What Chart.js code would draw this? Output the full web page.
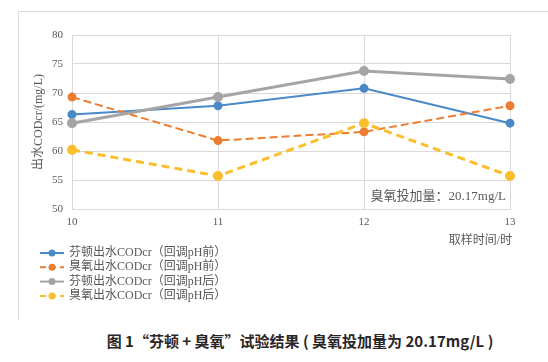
<!DOCTYPE html>
<html>
<head>
<meta charset="utf-8">
<script src="https://cdn.jsdelivr.net/npm/chart.js@4/dist/chart.umd.min.js"></script>
<style>
  body { margin: 0; background: #fff; }
  #wrap { position: relative; width: 548px; height: 362px; }
  #frame { position: absolute; left: 18px; top: 11px; width: 540px; height: 308px;
           border-left: 1px solid #dcdcdc; border-top: 1px solid #dcdcdc; }
  #chartBox { position: absolute; left: 0; top: 0; width: 548px; height: 320px; }
  #caption { position: absolute; left: 0; width: 600px; top: 330px; text-align: center;
             font-family: 'Noto Sans CJK SC', sans-serif; font-size: 15px; font-weight: bold; color: #2a2627; }
</style>
</head>
<body>
<div id="wrap">
  <div id="frame"></div>
  <div id="chartBox"><canvas id="chart" width="548" height="320"></canvas></div>
  <div id="caption">图 1“芬顿 + 臭氧”试验结果 ( 臭氧投加量为 20.17mg/L )</div>
</div>
<script>
const hours = ['10', '11', '12', '13'];
const fentonBefore = [66.3, 67.8, 70.8, 64.8];
const ozoneBefore = [69.3, 61.8, 63.3, 67.8];
const fentonAfter = [64.8, 69.3, 73.8, 72.4];
const ozoneAfter = [60.2, 55.7, 64.8, 55.7];
const yTicks = [50, 55, 60, 65, 70, 75, 80];

const serif = "'Liberation Serif', 'Noto Sans CJK SC', serif";
const textGray = '#595959';

// legend entries (drawn by hand so they stack in one column)
const legendItems = [
  { text: '芬顿出水CODcr（回调pH前）', color: '#4a89c8', dash: [] },
  { text: '臭氧出水CODcr（回调pH前）', color: '#ed7d31', dash: [6, 4] },
  { text: '芬顿出水CODcr（回调pH后）', color: '#a5a5a5', dash: [] },
  { text: '臭氧出水CODcr（回调pH后）', color: '#fbbf2e', dash: [6, 4] }
];

const extrasPlugin = {
  id: 'extras',
  afterDraw(chart) {
    const ctx = chart.ctx;
    const area = chart.chartArea;
    ctx.save();
    ctx.fillStyle = textGray;
    ctx.font = '13px ' + serif;
    ctx.textAlign = 'right';
    ctx.textBaseline = 'middle';
    ctx.fillText('臭氧投加量：20.17mg/L', area.right - 4, area.bottom - 12);
    ctx.font = '12px ' + serif;
    ctx.fillText('取样时间/时', area.right + 2, 241);

    legendItems.forEach((item, i) => {
      const y = 253 + i * 14.3;
      ctx.strokeStyle = item.color;
      ctx.lineWidth = 2;
      ctx.setLineDash(item.dash);
      ctx.beginPath();
      ctx.moveTo(40, y);
      ctx.lineTo(64, y);
      ctx.stroke();
      ctx.setLineDash([]);
      ctx.fillStyle = item.color;
      ctx.beginPath();
      ctx.arc(52, y, 3.5, 0, Math.PI * 2);
      ctx.fill();
      ctx.fillStyle = textGray;
      ctx.textAlign = 'left';
      ctx.font = '12px ' + serif;
      ctx.fillText(item.text, 69, y);
    });
    ctx.restore();
  }
};

const ctx = document.getElementById('chart').getContext('2d');
const chart = new Chart(ctx, {
  type: 'line',
  data: {
    labels: hours,
    datasets: [
      { label: '芬顿出水CODcr（回调pH前）', data: fentonBefore, borderColor: '#4a89c8', backgroundColor: '#4a89c8',
        borderWidth: 2, pointRadius: 3.5, order: 5 },
      { label: '臭氧出水CODcr（回调pH前）', data: ozoneBefore, borderColor: '#ed7d31', backgroundColor: '#ed7d31',
        borderWidth: 2, borderDash: [8, 4], pointRadius: 3.5, order: 4 },
      { label: '芬顿出水CODcr（回调pH后）', data: fentonAfter, borderColor: '#a5a5a5', backgroundColor: '#a5a5a5',
        borderWidth: 3, pointRadius: 3.5, order: 2 },
      { label: 'inner1', data: fentonAfter, borderColor: '#e4e4e4', borderWidth: 1, pointRadius: 0, order: 3 },
      { label: '臭氧出水CODcr（回调pH后）', data: ozoneAfter, borderColor: '#fbbf2e', backgroundColor: '#fbbf2e',
        borderWidth: 3, borderDash: [8, 5], pointRadius: 3.5, order: 0 },
      { label: 'inner2', data: ozoneAfter, borderColor: '#ffe08f', borderWidth: 1, borderDash: [8, 5], pointRadius: 0, order: 1 }
    ]
  },
  options: {
    responsive: false,
    animation: false,
    layout: { padding: { left: 26, right: 38, top: 35, bottom: 81 } },
    plugins: {
      legend: { display: false },
      tooltip: { enabled: false }
    },
    scales: {
      x: {
        offset: false,
        grid: { color: '#d9d9d9', drawTicks: false },
        border: { color: '#d9d9d9' },
        ticks: { color: textGray, font: { family: serif, size: 11 }, padding: 7 },
        afterFit(scale) { scale.height = 30; }
      },
      y: {
        min: 50,
        max: 80,
        afterBuildTicks(scale) { scale.ticks = yTicks.map(v => ({ value: v })); },
        grid: { color: '#d9d9d9', drawTicks: false },
        border: { color: '#d9d9d9' },
        ticks: { color: textGray, font: { family: serif, size: 11 }, padding: 9 },
        title: { display: true, text: '出水CODcr/(mg/L)', color: textGray,
                 font: { family: serif, size: 12 }, padding: { top: 6, bottom: 0 } },
        afterFit(scale) { scale.width = 46; }
      }
    }
  },
  plugins: [extrasPlugin]
});
</script>
</body>
</html>
